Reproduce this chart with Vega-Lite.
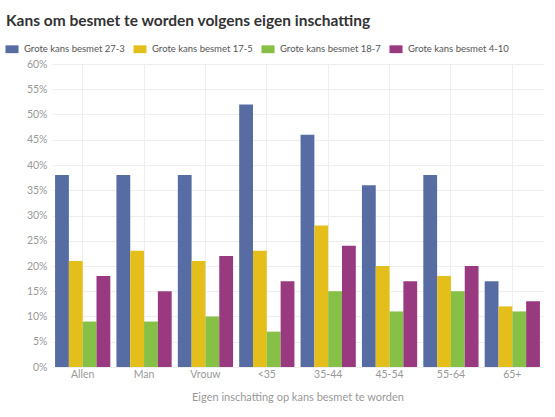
{
  "$schema": "https://vega.github.io/schema/vega-lite/v6.json",
  "width": 491,
  "height": 303,
  "autosize": "none",
  "padding": {"left": 52, "top": 64, "right": 12, "bottom": 50},
  "background": "white",
  "title": {
    "text": "Kans om besmet te worden volgens eigen inschatting",
    "anchor": "start",
    "frame": "group",
    "dx": -46,
    "offset": 13,
    "font": "Lato",
    "fontSize": 15.5,
    "fontWeight": "bold",
    "color": "#333333"
  },
  "data": {
    "values": [
      {"groep": "Allen", "serie": "Grote kans besmet 27-3", "waarde": 0.38},
      {"groep": "Allen", "serie": "Grote kans besmet 17-5", "waarde": 0.21},
      {"groep": "Allen", "serie": "Grote kans besmet 18-7", "waarde": 0.09},
      {"groep": "Allen", "serie": "Grote kans besmet 4-10", "waarde": 0.18},
      {"groep": "Man", "serie": "Grote kans besmet 27-3", "waarde": 0.38},
      {"groep": "Man", "serie": "Grote kans besmet 17-5", "waarde": 0.23},
      {"groep": "Man", "serie": "Grote kans besmet 18-7", "waarde": 0.09},
      {"groep": "Man", "serie": "Grote kans besmet 4-10", "waarde": 0.15},
      {"groep": "Vrouw", "serie": "Grote kans besmet 27-3", "waarde": 0.38},
      {"groep": "Vrouw", "serie": "Grote kans besmet 17-5", "waarde": 0.21},
      {"groep": "Vrouw", "serie": "Grote kans besmet 18-7", "waarde": 0.10},
      {"groep": "Vrouw", "serie": "Grote kans besmet 4-10", "waarde": 0.22},
      {"groep": "<35", "serie": "Grote kans besmet 27-3", "waarde": 0.52},
      {"groep": "<35", "serie": "Grote kans besmet 17-5", "waarde": 0.23},
      {"groep": "<35", "serie": "Grote kans besmet 18-7", "waarde": 0.07},
      {"groep": "<35", "serie": "Grote kans besmet 4-10", "waarde": 0.17},
      {"groep": "35-44", "serie": "Grote kans besmet 27-3", "waarde": 0.46},
      {"groep": "35-44", "serie": "Grote kans besmet 17-5", "waarde": 0.28},
      {"groep": "35-44", "serie": "Grote kans besmet 18-7", "waarde": 0.15},
      {"groep": "35-44", "serie": "Grote kans besmet 4-10", "waarde": 0.24},
      {"groep": "45-54", "serie": "Grote kans besmet 27-3", "waarde": 0.36},
      {"groep": "45-54", "serie": "Grote kans besmet 17-5", "waarde": 0.20},
      {"groep": "45-54", "serie": "Grote kans besmet 18-7", "waarde": 0.11},
      {"groep": "45-54", "serie": "Grote kans besmet 4-10", "waarde": 0.17},
      {"groep": "55-64", "serie": "Grote kans besmet 27-3", "waarde": 0.38},
      {"groep": "55-64", "serie": "Grote kans besmet 17-5", "waarde": 0.18},
      {"groep": "55-64", "serie": "Grote kans besmet 18-7", "waarde": 0.15},
      {"groep": "55-64", "serie": "Grote kans besmet 4-10", "waarde": 0.20},
      {"groep": "65+", "serie": "Grote kans besmet 27-3", "waarde": 0.17},
      {"groep": "65+", "serie": "Grote kans besmet 17-5", "waarde": 0.12},
      {"groep": "65+", "serie": "Grote kans besmet 18-7", "waarde": 0.11},
      {"groep": "65+", "serie": "Grote kans besmet 4-10", "waarde": 0.13}
    ]
  },
  "mark": {"type": "bar"},
  "encoding": {
    "x": {
      "field": "groep",
      "type": "nominal",
      "sort": ["Allen", "Man", "Vrouw", "<35", "35-44", "45-54", "55-64", "65+"],
      "scale": {"paddingInner": 0.1, "paddingOuter": 0.05},
      "axis": {
        "title": "Eigen inschatting op kans besmet te worden",
        "titleFont": "Lato",
        "titleFontSize": 11,
        "titleFontWeight": "normal",
        "titleColor": "#999999",
        "titlePadding": 12,
        "labelAngle": 0,
        "labelFont": "Lato",
        "labelFontSize": 10.5,
        "labelColor": "#999999",
        "labelPadding": 2,
        "ticks": false,
        "domain": false,
        "grid": true,
        "gridColor": "#eeeeee",
        "bandPosition": 0.5
      }
    },
    "xOffset": {
      "field": "serie",
      "type": "nominal",
      "sort": ["Grote kans besmet 27-3", "Grote kans besmet 17-5", "Grote kans besmet 18-7", "Grote kans besmet 4-10"],
      "scale": {"paddingInner": 0, "paddingOuter": 0}
    },
    "y": {
      "field": "waarde",
      "type": "quantitative",
      "scale": {"domain": [0, 0.6], "nice": false},
      "axis": {
        "title": null,
        "format": ".0%",
        "values": [0, 0.05, 0.1, 0.15, 0.2, 0.25, 0.3, 0.35, 0.4, 0.45, 0.5, 0.55, 0.6],
        "labelFont": "Lato",
        "labelFontSize": 10.5,
        "labelColor": "#999999",
        "labelPadding": 5,
        "ticks": false,
        "domain": false,
        "gridColor": "#eeeeee"
      }
    },
    "color": {
      "field": "serie",
      "type": "nominal",
      "sort": ["Grote kans besmet 27-3", "Grote kans besmet 17-5", "Grote kans besmet 18-7", "Grote kans besmet 4-10"],
      "scale": {
        "domain": ["Grote kans besmet 27-3", "Grote kans besmet 17-5", "Grote kans besmet 18-7", "Grote kans besmet 4-10"],
        "range": ["#566ca3", "#e4bf1b", "#86c046", "#993a80"]
      },
      "legend": {
        "title": null,
        "orient": "none",
        "direction": "horizontal",
        "legendX": -47,
        "legendY": -22,
        "labelFont": "Lato",
        "labelFontSize": 9.5,
        "labelColor": "#555555",
        "symbolType": "M-1,-0.6H1V0.6H-1Z",
        "symbolSize": 170,
        "symbolStrokeWidth": 0,
        "symbolOpacity": 1,
        "columnPadding": 8,
        "labelOffset": 5
      }
    }
  },
  "config": {"view": {"stroke": null}}
}
